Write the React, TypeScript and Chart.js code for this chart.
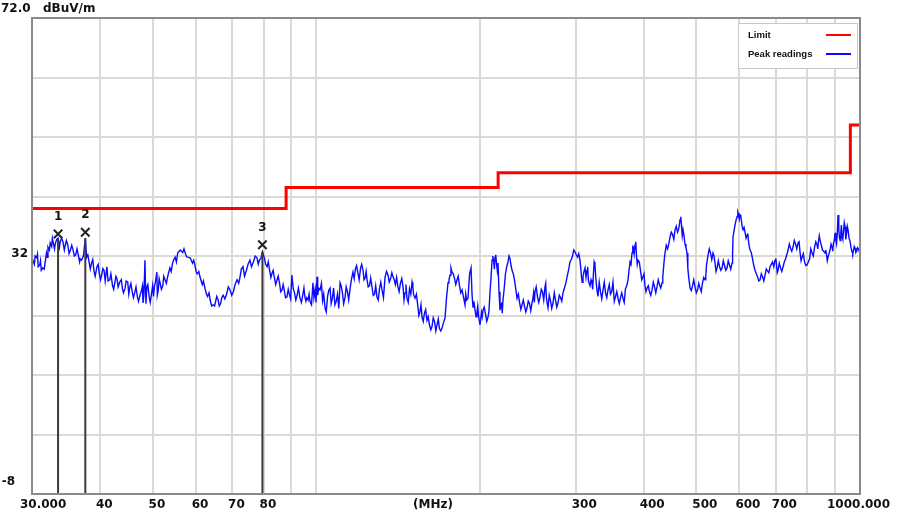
import React, { useEffect, useRef } from "react";
import { Chart, registerables } from "chart.js";

Chart.register(...registerables);

// Peak readings: [frequency MHz, level dBuV/m]
const peakTrace: [number, number][] = [
  [30.0, 31.5], [30.1, 31.3], [30.4, 32.0], [30.6, 31.7], [30.8, 30.2], [31.0, 30.5], [31.2, 29.6], [31.4, 30.0],
  [31.7, 30.8], [31.9, 32.5], [32.1, 33.5], [32.4, 34.2], [32.6, 33.6], [32.8, 34.4], [33.1, 34.0], [33.5, 35.0],
  [33.8, 34.4], [34.2, 34.4], [34.5, 33.6], [34.9, 33.9], [35.3, 33.0], [35.7, 33.0], [36.1, 32.2], [36.5, 32.2],
  [36.8, 31.5], [37.0, 31.3], [37.3, 32.0], [37.6, 35.0], [37.8, 31.8], [38.2, 31.0], [38.6, 30.8], [39.0, 29.5],
  [39.5, 30.2], [39.9, 29.0], [40.3, 28.8], [40.7, 29.6], [41.2, 30.2], [41.4, 27.8], [41.7, 28.0], [42.2, 27.0],
  [42.6, 27.5], [43.0, 28.2], [43.5, 27.6], [44.0, 26.5], [44.5, 26.6], [45.0, 27.6], [45.4, 26.8], [45.9, 25.8],
  [46.4, 26.0], [46.9, 25.0], [47.4, 25.4], [47.7, 26.2], [48.0, 24.1], [48.4, 31.3], [48.8, 26.8], [49.3, 25.0],
  [49.8, 25.8], [50.4, 27.0], [50.9, 29.3], [51.2, 26.2], [51.6, 27.5], [52.2, 27.0], [52.7, 28.0], [53.3, 28.6],
  [53.8, 30.0], [54.4, 30.8], [55.0, 31.8], [55.6, 32.5], [56.2, 33.0], [56.8, 32.6], [57.4, 32.5], [58.0, 31.8],
  [58.6, 31.7], [59.2, 30.8], [59.8, 30.5], [60.4, 29.0], [61.1, 28.5], [61.7, 27.2], [62.4, 26.6], [63.1, 25.2],
  [63.8, 24.6], [64.6, 23.8], [65.3, 24.4], [66.0, 24.6], [66.7, 24.0], [67.4, 25.4], [68.4, 25.6], [69.4, 26.3],
  [70.4, 26.0], [71.5, 28.0], [72.4, 28.5], [73.3, 30.2], [74.4, 29.6], [75.5, 31.3], [76.6, 31.0], [77.8, 31.7],
  [78.6, 31.3], [79.6, 32.7], [80.3, 31.6], [81.2, 30.2], [82.0, 29.8], [82.9, 29.1], [83.8, 28.2], [84.7, 28.0],
  [85.6, 27.4], [86.5, 26.3], [87.4, 26.0], [88.3, 25.1], [89.2, 25.6], [90.2, 28.8], [91.2, 25.8], [92.2, 25.4],
  [93.3, 25.0], [94.5, 25.6], [95.3, 25.1], [96.1, 25.0], [96.6, 24.6], [97.4, 24.3], [98.6, 27.5], [99.5, 26.4],
  [100.3, 28.5], [101.0, 26.6], [101.6, 26.3], [102.7, 24.5], [103.8, 23.2], [104.9, 25.2], [106.0, 26.6], [107.1, 25.0],
  [108.2, 23.8], [109.4, 25.6], [110.6, 27.5], [111.7, 25.8], [112.9, 24.9], [114.1, 26.0], [115.3, 26.3], [116.0, 28.0],
  [116.8, 29.3], [118.0, 29.8], [119.3, 29.1], [120.6, 29.9], [121.9, 29.6], [123.0, 28.3], [124.0, 28.0], [125.3, 27.0],
  [126.6, 26.8], [128.0, 25.6], [129.3, 25.1], [130.7, 26.5], [132.1, 26.3], [133.8, 28.4], [135.5, 28.8], [137.0, 28.2],
  [138.4, 28.5], [139.8, 27.2], [141.3, 26.8], [142.8, 27.4], [144.4, 26.8], [145.6, 25.8], [146.8, 24.9], [148.4, 26.5],
  [150.0, 27.6], [151.0, 25.5], [151.9, 24.9], [153.8, 23.4], [155.1, 22.6], [156.5, 21.7], [158.1, 22.4], [159.8, 21.2],
  [161.5, 20.4], [163.2, 20.1], [165.0, 21.0], [166.7, 20.4], [168.5, 19.8], [170.3, 19.9], [172.5, 21.6], [173.6, 25.0],
  [174.7, 27.5], [176.2, 28.8], [177.7, 29.3], [179.6, 28.2], [181.5, 28.0], [183.4, 27.0], [185.4, 26.3], [186.6, 25.0],
  [187.7, 23.8], [189.0, 24.6], [190.1, 24.9], [191.4, 29.0], [192.6, 30.0], [193.4, 25.5], [194.2, 23.4], [195.8, 23.0],
  [197.5, 22.6], [198.8, 22.0], [200.0, 20.4], [201.3, 22.5], [202.6, 22.9], [204.7, 22.3], [206.9, 21.7], [208.7, 26.0],
  [210.5, 31.3], [212.0, 31.0], [213.2, 31.8], [214.5, 30.8], [215.9, 30.8], [216.8, 26.0], [217.7, 22.9], [219.1, 24.0],
  [220.5, 24.6], [222.8, 29.0], [225.2, 31.0], [227.2, 31.5], [229.1, 29.6], [231.5, 28.0], [234.0, 24.9], [236.5, 24.2],
  [239.0, 23.8], [241.6, 23.5], [244.1, 23.3], [246.7, 24.0], [249.3, 24.1], [251.0, 25.8], [252.5, 26.0], [255.2, 25.1],
  [257.9, 25.1], [260.6, 26.0], [263.4, 26.8], [265.0, 25.0], [266.8, 23.3], [269.6, 24.5], [272.5, 24.1], [275.4, 24.6],
  [278.3, 24.1], [281.3, 25.0], [284.3, 25.8], [286.8, 27.0], [289.2, 28.5], [292.8, 31.0], [296.0, 32.0], [299.1, 32.7],
  [302.3, 31.8], [305.5, 31.3], [307.4, 28.5], [309.4, 28.5], [312.1, 30.0], [314.7, 29.6], [316.5, 28.0], [318.8, 27.0],
  [321.4, 27.5], [323.4, 29.0], [325.5, 30.5], [327.6, 27.0], [329.7, 25.2], [333.2, 26.0], [336.8, 26.3], [340.4, 25.8],
  [344.0, 26.3], [347.6, 25.6], [351.3, 27.6], [355.1, 25.2], [358.9, 24.9], [362.7, 25.0], [366.5, 24.9], [370.4, 26.5],
  [374.4, 28.0], [377.6, 31.0], [380.8, 32.5], [383.2, 33.5], [385.7, 33.9], [388.1, 32.0], [390.6, 31.3], [394.8, 29.5],
  [398.9, 28.5], [402.3, 27.0], [405.8, 26.6], [410.1, 26.0], [414.5, 26.3], [418.9, 26.8], [423.3, 26.8], [427.8, 27.2],
  [432.4, 27.5], [435.2, 30.0], [437.9, 32.5], [442.6, 33.2], [447.3, 35.2], [452.1, 35.6], [456.9, 36.4], [461.8, 36.0],
  [466.7, 38.1], [469.6, 37.0], [472.6, 36.4], [476.6, 34.0], [480.7, 32.5], [484.0, 28.5], [486.8, 26.6], [492.0, 27.0],
  [497.3, 26.8], [502.6, 26.3], [507.9, 26.6], [513.3, 27.5], [518.8, 28.0], [522.1, 30.5], [525.5, 32.2], [531.0, 32.5],
  [536.6, 32.5], [541.2, 30.8], [545.9, 30.0], [551.7, 30.2], [557.6, 30.0], [563.5, 30.4], [569.4, 30.0], [575.5, 30.5],
  [581.6, 30.8], [584.1, 35.2], [589.0, 37.2], [594.1, 38.6], [597.9, 39.0], [601.7, 38.9], [605.5, 37.8], [609.4, 36.4],
  [614.6, 36.0], [619.8, 35.5], [623.7, 34.5], [627.7, 33.0], [634.4, 31.5], [641.1, 29.6], [648.0, 28.5], [654.9, 28.0],
  [661.9, 28.5], [668.9, 28.8], [676.0, 29.5], [683.2, 30.2], [690.5, 31.0], [697.8, 31.3], [702.2, 30.5], [706.7, 29.6],
  [714.3, 30.0], [721.9, 30.2], [729.5, 31.5], [737.3, 33.0], [745.2, 33.3], [753.1, 33.5], [761.1, 34.0], [769.2, 34.2],
  [775.8, 32.6], [782.4, 31.8], [790.7, 31.0], [799.1, 30.5], [807.6, 31.5], [816.2, 32.5], [824.9, 33.5], [833.7, 33.9],
  [839.0, 34.5], [844.3, 34.7], [853.3, 33.0], [862.4, 32.5], [867.9, 32.2], [873.4, 31.8], [880.8, 33.0], [888.3, 33.5],
  [893.9, 34.2], [899.7, 35.9], [905.4, 34.0], [911.2, 38.9], [917.0, 35.0], [922.0, 36.0], [926.7, 35.2], [932.6, 36.2],
  [938.6, 36.9], [944.6, 35.8], [950.6, 36.4], [958.6, 34.5], [966.8, 32.7], [972.9, 33.0], [979.2, 33.3], [986.0, 32.8],
  [993.0, 33.2], [1000.0, 33.0],
];

// Additional readings between the above, showing the noisy band of the trace
const peakNoise: [number, number][] = [
  [30.3, 30.6], [30.7, 32.3], [31.1, 31.2], [31.6, 29.8], [32.0, 31.8], [32.3, 33.0], [32.7, 35.0], [33.0, 33.2],
  [33.3, 34.8], [33.7, 33.5], [34.0, 35.0], [34.4, 33.0], [34.7, 34.6], [35.1, 32.4], [35.5, 33.8], [35.9, 32.0],
  [36.3, 33.2], [36.7, 31.0], [38.0, 32.2], [38.4, 29.8], [38.8, 31.4], [39.2, 28.6], [39.7, 30.6], [40.1, 28.0],
  [40.5, 29.9], [40.9, 27.8], [41.9, 29.0], [42.4, 26.4], [42.8, 28.6], [43.2, 26.8], [43.8, 28.0], [44.2, 25.8],
  [44.7, 27.8], [45.2, 25.6], [45.6, 27.4], [46.1, 25.0], [46.6, 26.8], [47.1, 24.4], [47.9, 27.0], [48.2, 25.5],
  [48.6, 24.0], [49.0, 27.2], [49.5, 24.2], [50.0, 27.0], [50.2, 25.2], [50.6, 27.6], [51.0, 25.4], [51.4, 28.2],
  [51.9, 26.4], [52.4, 28.6], [53.0, 27.4], [54.1, 29.4], [54.7, 31.4], [55.3, 31.0], [57.1, 33.2], [57.7, 31.9],
  [59.5, 31.3], [60.1, 29.4], [60.8, 29.4], [62.0, 27.8], [62.8, 25.6], [63.5, 25.8], [64.2, 23.6], [65.0, 23.6],
  [65.6, 25.2], [66.3, 23.6], [67.0, 25.0], [67.9, 24.8], [68.9, 26.8], [69.9, 25.4], [70.9, 27.2], [72.0, 27.4],
  [72.8, 29.8], [73.8, 28.6], [74.9, 30.6], [76.0, 30.2], [77.2, 32.0], [78.2, 30.6], [79.1, 31.6], [80.7, 30.6],
  [81.6, 31.0], [82.5, 28.4], [83.3, 29.6], [84.2, 27.2], [85.1, 28.6], [86.0, 26.0], [86.9, 27.2], [87.8, 25.0],
  [88.8, 26.4], [89.7, 24.8], [90.7, 26.5], [91.7, 24.6], [92.7, 26.6], [93.9, 24.2], [94.9, 26.6], [95.7, 24.4],
  [97.0, 25.6], [98.0, 23.8], [99.0, 25.0], [99.9, 24.2], [100.6, 25.4], [102.2, 27.4], [103.2, 25.6], [104.3, 22.6],
  [105.4, 26.2], [106.5, 24.0], [107.6, 26.6], [108.8, 24.4], [110.0, 23.2], [111.1, 27.0], [112.3, 24.0], [113.5, 26.8],
  [114.7, 24.6], [117.4, 28.2], [118.6, 30.4], [119.9, 28.0], [121.2, 30.6], [122.4, 28.0], [123.5, 29.4], [124.6, 26.8],
  [125.9, 28.3], [127.3, 25.4], [128.6, 27.0], [130.0, 24.6], [131.4, 27.6], [132.9, 25.0], [134.6, 29.4], [136.2, 27.6],
  [137.7, 29.2], [139.1, 28.0], [140.5, 28.4], [142.0, 26.0], [143.6, 28.2], [145.0, 24.6], [146.2, 27.2], [147.6, 24.2],
  [149.2, 25.6], [150.5, 26.8], [152.8, 25.6], [154.4, 22.0], [155.8, 23.8], [157.3, 21.0], [158.9, 23.0], [160.6, 21.8],
  [162.4, 19.6], [164.1, 21.6], [165.9, 19.4], [167.6, 21.4], [169.4, 19.4], [171.4, 20.8], [175.4, 28.0], [176.9, 30.0],
  [178.6, 29.0], [180.5, 27.2], [182.4, 28.6], [184.4, 25.8], [188.3, 25.6], [194.9, 24.4], [196.7, 21.8], [198.1, 23.6],
  [199.4, 21.2], [201.9, 21.8], [203.6, 23.4], [205.8, 21.0], [207.8, 22.8], [209.6, 28.4], [211.2, 32.0], [212.6, 29.8],
  [213.8, 32.2], [215.2, 29.6], [218.4, 23.8], [219.8, 22.4], [221.6, 26.5], [224.0, 30.2], [226.2, 32.0], [228.1, 30.4],
  [230.3, 29.0], [232.8, 26.4], [235.3, 25.6], [237.8, 23.0], [240.3, 24.6], [242.9, 22.6], [245.4, 24.4], [248.0, 22.8],
  [250.2, 24.8], [251.8, 24.2], [253.8, 26.8], [256.5, 24.2], [259.3, 26.4], [262.0, 24.6], [264.2, 27.4], [265.9, 24.0],
  [268.2, 25.4], [271.0, 23.2], [274.0, 25.8], [276.9, 23.4], [279.8, 25.4], [282.8, 24.4], [285.6, 26.4], [288.0, 27.6],
  [291.0, 29.6], [294.4, 31.4], [297.5, 33.0], [300.7, 32.2], [303.9, 32.4], [306.5, 30.0], [308.4, 27.6], [310.7, 29.4],
  [313.4, 28.4], [315.6, 30.2], [317.6, 27.4], [320.1, 28.0], [322.4, 26.4], [324.4, 31.0], [326.5, 28.6], [328.6, 26.0],
  [331.4, 27.6], [335.0, 24.8], [338.6, 27.6], [342.2, 25.0], [345.8, 27.2], [349.4, 26.0], [353.2, 24.4], [357.0, 26.0],
  [360.8, 24.0], [364.6, 25.8], [368.4, 24.2], [372.4, 27.0], [376.0, 29.6], [379.2, 30.6], [382.0, 33.6], [384.4, 32.4],
  [386.9, 34.4], [389.3, 30.6], [392.7, 31.0], [396.8, 28.0], [400.6, 29.0], [404.0, 26.0], [408.0, 27.0], [412.3, 25.4],
  [416.7, 27.6], [421.1, 25.8], [425.5, 28.0], [430.1, 26.6], [433.8, 28.5], [436.5, 31.4], [440.2, 33.8], [444.9, 34.0],
  [449.7, 36.0], [454.5, 34.8], [459.3, 37.0], [464.2, 36.6], [468.1, 38.6], [471.1, 35.4], [474.6, 35.4], [478.6, 33.4],
  [482.3, 30.0], [485.4, 27.6], [489.4, 26.2], [494.6, 28.0], [500.0, 25.8], [505.2, 27.4], [510.6, 26.0], [516.0, 28.4],
  [520.4, 28.6], [523.8, 31.4], [528.2, 33.2], [533.8, 31.4], [538.9, 32.0], [543.5, 29.4], [548.8, 31.2], [554.6, 29.6],
  [560.5, 31.2], [566.4, 29.6], [572.4, 31.2], [578.5, 29.8], [583.0, 32.4], [586.5, 36.2], [591.5, 38.0], [596.0, 39.4],
  [599.8, 38.2], [603.6, 38.6], [607.4, 36.8], [612.0, 36.8], [617.2, 35.0], [621.7, 35.8], [625.7, 33.6], [631.0, 32.6],
  [637.7, 30.4], [644.5, 29.0], [651.4, 27.8], [658.4, 29.0], [665.4, 27.8], [672.4, 29.8], [679.6, 29.2], [686.8, 30.6],
  [694.1, 30.2], [700.0, 31.6], [704.4, 29.2], [710.5, 30.8], [718.1, 29.4], [725.7, 31.0], [733.4, 32.2], [741.2, 34.0],
  [749.1, 32.8], [757.1, 34.6], [765.1, 33.2], [772.5, 34.4], [779.1, 31.2], [786.5, 32.4], [794.9, 30.4], [803.3, 31.0],
  [811.9, 33.2], [820.5, 32.0], [829.3, 34.4], [836.3, 33.2], [841.6, 35.4], [848.8, 33.8], [857.8, 32.8], [865.1, 33.0],
  [870.6, 31.2], [877.1, 32.4], [884.5, 34.0], [891.1, 32.8], [896.8, 34.6], [902.5, 34.6], [908.3, 35.8], [914.1, 36.4],
  [919.5, 34.6], [924.3, 37.2], [929.6, 34.8], [935.6, 37.6], [941.6, 34.8], [947.6, 37.0], [954.6, 35.0], [962.7, 33.4],
  [969.8, 32.4], [976.0, 33.6], [982.6, 32.6], [989.5, 33.4], [996.5, 32.8],
];

const limitFreq = [30, 88, 88, 216, 216, 960, 960, 1000];
const limitLevel = [40, 40, 43.5, 43.5, 46, 46, 54, 54];

const markerNames = ["1", "2", "3"];
const markerFreq = [33.5, 37.6, 79.6];
const markerLevel = [35.7, 36.0, 33.9];
const markerReading = [34.8, 35.0, 32.7];

const xTickValues = [30, 40, 50, 60, 70, 80, 90, 100, 200, 300, 400, 500, 600, 700, 800, 900, 1000];
const xTickLabels = ["30.000", "40", "50", "60", "70", "80", "", "", "", "300", "400", "500", "600", "700", "", "", "1000.000"];
const yTickValues = [-8, 2, 12, 22, 32, 42, 52, 62, 72];
const yTickLabels = ["-8", "", "", "", "32", "", "", "", "72.0"];
const yUnit = "dBuV/m";
const xUnit = "(MHz)";
const seriesNames = ["Limit", "Peak readings"];
const seriesColors = ["#ff0000", "#0a0aff"];

const AXIS_FONT = 'bold 12px "DejaVu Sans"';

const overlayPlugin = {
  id: "overlay",
  afterDraw(chart: any) {
    const { ctx, chartArea: a, scales } = chart;
    const x = scales.x;
    const y = scales.y;
    ctx.save();
    ctx.strokeStyle = "#8a8a8a";
    ctx.lineWidth = 2;
    ctx.strokeRect(a.left, a.top, a.right - a.left, a.bottom - a.top);

    ctx.fillStyle = "#111111";
    ctx.font = AXIS_FONT;
    ctx.textBaseline = "middle";

    const last = xTickValues.length - 1;
    xTickValues.forEach((v, i) => {
      const t = xTickLabels[i];
      if (!t) return;
      const px = x.getPixelForValue(v);
      let lx = px - 4;
      if (i === 0) lx = px - 12;
      if (i === last) lx = px - 33;
      ctx.textAlign = "left";
      ctx.fillText(t, lx, a.bottom + 11);
    });
    ctx.textAlign = "left";
    ctx.fillText(xUnit, a.left + 381, a.bottom + 11);

    yTickValues.forEach((v, i) => {
      const t = yTickLabels[i];
      if (!t) return;
      const py = y.getPixelForValue(v);
      if (i === yTickValues.length - 1) {
        ctx.textAlign = "left";
        ctx.fillText(t, 1, py - 9);
        ctx.fillText(yUnit, a.left + 11, py - 9);
      } else if (i === 0) {
        ctx.textAlign = "right";
        ctx.fillText(t, a.left - 17, py - 12);
      } else {
        ctx.textAlign = "right";
        ctx.fillText(t, a.left - 4, py - 2);
      }
    });

    ctx.textAlign = "center";
    markerNames.forEach((n, i) => {
      const px = x.getPixelForValue(markerFreq[i]);
      const py = y.getPixelForValue(markerLevel[i]);
      ctx.fillText(n, px, py - 17);
    });

    const bx = a.right - 122;
    const by = a.top + 5;
    const bw = 119;
    const bh = 45;
    ctx.fillStyle = "#ffffff";
    ctx.fillRect(bx, by, bw, bh);
    ctx.strokeStyle = "#c8c8c8";
    ctx.lineWidth = 1;
    ctx.strokeRect(bx + 0.5, by + 0.5, bw, bh);
    ctx.font = 'bold 9.5px "Liberation Sans"';
    ctx.textAlign = "left";
    seriesNames.forEach((n, i) => {
      const ly = by + 12 + i * 19;
      ctx.fillStyle = "#111111";
      ctx.fillText(n, bx + 10, ly);
      ctx.strokeStyle = seriesColors[i];
      ctx.lineWidth = 2;
      ctx.beginPath();
      ctx.moveTo(bx + 88, ly);
      ctx.lineTo(bx + 113, ly);
      ctx.stroke();
    });
    ctx.restore();
  },
};

export default function App() {
  const ref = useRef<HTMLCanvasElement | null>(null);
  useEffect(() => {
    if (!ref.current) return;
    const peakAll = [...peakTrace, ...peakNoise].sort((p, q) => p[0] - q[0]);
    const datasets: any[] = [
      {
        label: seriesNames[0],
        data: limitFreq.map((f, i) => ({ x: f, y: limitLevel[i] })),
        borderColor: seriesColors[0],
        borderWidth: 3,
        pointRadius: 0,
        tension: 0,
        order: 3,
      },
      {
        label: seriesNames[1],
        data: peakAll.map((p) => ({ x: p[0], y: p[1] })),
        borderColor: seriesColors[1],
        borderWidth: 1.4,
        pointRadius: 0,
        tension: 0,
        order: 4,
      },
    ];
    markerFreq.forEach((f, i) => {
      datasets.push({
        label: "marker line " + markerNames[i],
        data: [
          { x: f, y: -8 },
          { x: f, y: markerReading[i] },
        ],
        borderColor: "#3a3a3a",
        borderWidth: 2,
        pointRadius: 0,
        order: 2,
      });
    });
    datasets.push({
      type: "scatter",
      label: "markers",
      data: markerFreq.map((f, i) => ({ x: f, y: markerLevel[i] })),
      pointStyle: "crossRot",
      pointRadius: 6,
      borderColor: "#222222",
      borderWidth: 2,
      order: 1,
    });

    const chart = new Chart(ref.current, {
      type: "line",
      data: { datasets },
      options: {
        animation: false,
        responsive: false,
        maintainAspectRatio: false,
        layout: { padding: { left: 32, top: 18, right: 40, bottom: 23 } },
        plugins: { legend: { display: false }, tooltip: { enabled: false } },
        scales: {
          x: {
            type: "logarithmic",
            min: 30,
            max: 1000,
            afterBuildTicks: (scale: any) => {
              scale.ticks = xTickValues.map((v) => ({ value: v }));
            },
            ticks: { display: false },
            grid: { color: "#dcd9d3", lineWidth: 2, drawTicks: false },
            border: { display: false },
          },
          y: {
            type: "linear",
            min: -8,
            max: 72,
            afterBuildTicks: (scale: any) => {
              scale.ticks = yTickValues.map((v) => ({ value: v }));
            },
            ticks: { display: false },
            grid: { color: "#dcd9d3", lineWidth: 2, drawTicks: false },
            border: { display: false },
          },
        },
      },
      plugins: [overlayPlugin],
    });
    return () => chart.destroy();
  }, []);

  return (
    <div style={{ position: "fixed", left: 0, top: 0, width: 900, height: 517, background: "#ffffff" }}>
      <canvas ref={ref} width={900} height={517} style={{ display: "block" }} />
    </div>
  );
}
